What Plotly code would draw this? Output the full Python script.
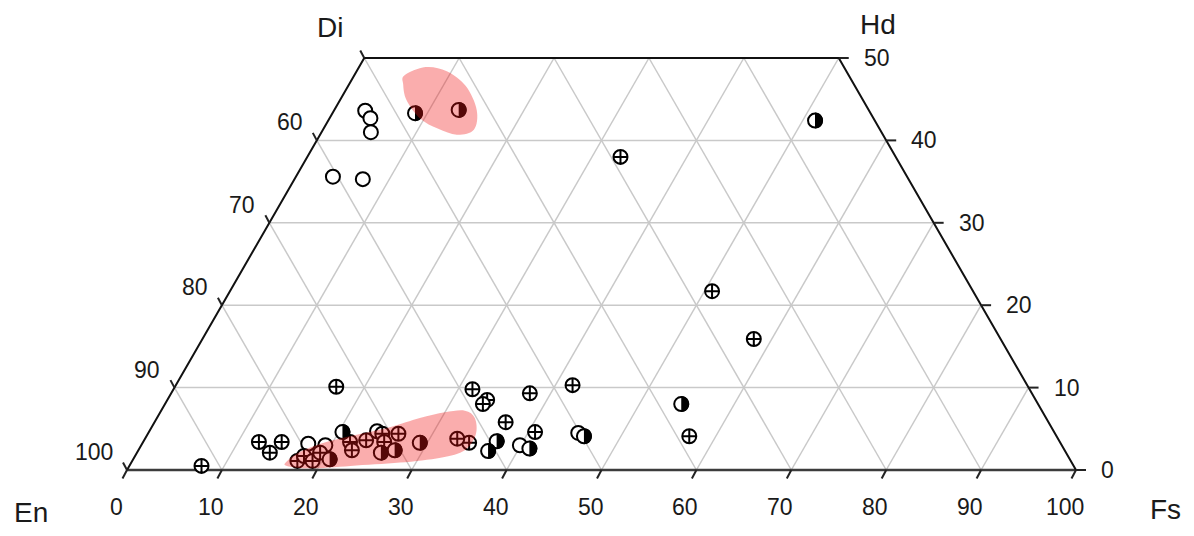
import plotly.graph_objects as go

# ---------------- data (ternary: Fs %, Wo %; En = 100 - Fs - Wo) ----------------
open_fs = [3.3, 4.3, 5.2, 3.9, 7.2, 45.3, 39.9, 17.5, 19.4, 24.0]
open_wo = [43.6, 42.7, 41.0, 35.6, 35.3, 4.5, 3.0, 3.2, 3.0, 4.7]

cross_fs = [33.0, 50.8, 58.1, 57.2, 17.0, 31.5, 33.7, 33.5, 37.8, 41.8, 37.0, 40.7,
            34.4, 32.9, 7.6, 12.2, 14.0, 14.6, 17.4, 17.8, 19.0, 19.3, 21.8, 22.5,
            23.4, 24.7, 25.4, 26.4]
cross_wo = [38.0, 21.7, 15.9, 4.1, 10.1, 9.8, 8.5, 8.0, 9.3, 10.3, 5.8, 4.6,
            3.3, 3.8, 0.5, 3.4, 2.1, 3.4, 1.1, 1.7, 1.1, 2.1, 3.4, 2.4,
            3.6, 4.4, 3.4, 4.4]

half_fs = [8.7, 13.1, 51.3, 54.4, 46.1, 37.2, 36.9, 41.1, 20.7, 20.4, 25.7, 27.0, 29.2]
half_wo = [43.3, 43.7, 42.4, 8.0, 4.1, 3.5, 2.3, 2.6, 1.3, 4.6, 2.1, 2.4, 3.3]

# highlighted fields (outline vertices, Fs %, Wo %)
field_top_fs = [5.3, 7.0, 9.5, 12.4, 15.0, 15.9, 14.4, 12.1, 9.5, 7.0, 5.7]
field_top_wo = [47.9, 48.9, 48.4, 46.6, 43.7, 41.3, 40.7, 41.4, 42.7, 44.9, 46.8]
field_low_fs = [16.6, 19.2, 23.3, 28.3, 32.3, 34.4, 34.6, 33.5, 32.0, 30.0, 27.7,
                25.1, 21.4, 18.8, 17.0, 16.3]
field_low_wo = [0.5, 0.2, 0.5, 0.9, 1.5, 2.4, 4.3, 6.3, 7.2, 7.0, 6.3,
                5.2, 4.1, 3.2, 2.1, 1.0]

bottom_ticks = [0, 10, 20, 30, 40, 50, 60, 70, 80, 90, 100]
bottom_labels = [str(v) for v in bottom_ticks]
left_ticks = [0, 10, 20, 30, 40, 50]           # Wo positions along En-Di edge
left_labels = ["100", "90", "80", "70", "60", ""]
right_ticks = [0, 10, 20, 30, 40, 50]
right_labels = [str(v) for v in right_ticks]
vertex_names = ["Di", "Hd", "En", "Fs"]

# ---------------- geometry helpers ----------------
PXX, PXY = 9.49, 8.24       # pixels per unit (x: Fs units, y: Wo units)
OFF = 8                     # page body margin
W, H = 1194 - 2 * OFF, 536 - 2 * OFF
X0, Y0 = 127 - OFF, 470 - OFF


def cx(fs, wo):
    return [f + w / 2 for f, w in zip(fs, wo)]


def dx(p):
    return p / PXX


def dy(p):
    return -p / PXY


fig = go.Figure()

# grid
gx, gy = [], []
for w in [10, 20, 30, 40]:
    gx += [w / 2, 100 - w / 2, None]
    gy += [w, w, None]
for f in range(10, 100, 10):
    we = 50 if f <= 50 else 100 - f
    gx += [f, f + we / 2, None]
    gy += [0, we, None]
for e in range(10, 100, 10):
    we = 50 if e <= 50 else 100 - e
    gx += [100 - e, 100 - e - we / 2, None]
    gy += [0, we, None]
fig.add_trace(go.Scatter(x=gx, y=gy, mode="lines", hoverinfo="skip",
                         line=dict(color="#c9c9c9", width=1.5), showlegend=False))

# frame
fig.add_trace(go.Scatter(x=[0, 100], y=[0, 0], mode="lines", hoverinfo="skip",
                         line=dict(color="#3c3c3c", width=2.5), showlegend=False))
fig.add_trace(go.Scatter(x=[100, 75, 25, 0], y=[0, 50, 50, 0], mode="lines", hoverinfo="skip",
                         line=dict(color="#111111", width=2), showlegend=False))

# ticks
tx, ty = [], []
for f in bottom_ticks:
    tx += [f, f + dx(-4.5), None]
    ty += [0, dy(8.5), None]
for w in left_ticks:
    tx += [w / 2, w / 2 + dx(-4), None]
    ty += [w, w + dy(-7.5), None]
for w in right_ticks:
    tx += [100 - w / 2, 100 - w / 2 + dx(10), None]
    ty += [w, w, None]
fig.add_trace(go.Scatter(x=tx, y=ty, mode="lines", hoverinfo="skip",
                         line=dict(color="#222222", width=2), showlegend=False))

# markers
MS = 14
fig.add_trace(go.Scatter(x=cx(open_fs, open_wo), y=open_wo, mode="markers", showlegend=False,
                         marker=dict(symbol="circle", size=MS, color="white",
                                     line=dict(color="black", width=2))))
fig.add_trace(go.Scatter(x=cx(cross_fs, cross_wo), y=cross_wo, mode="markers", showlegend=False,
                         marker=dict(symbol="circle-cross", size=MS, color="white",
                                     line=dict(color="black", width=2))))
half_x = cx(half_fs, half_wo)
fig.add_trace(go.Scatter(x=half_x, y=half_wo, mode="markers", showlegend=False,
                         marker=dict(symbol="circle", size=MS, color="white",
                                     line=dict(color="black", width=2))))

shapes = []
# black right halves of the half-filled symbols (pixel-sized, anchored at the data points)
R = MS / 2 + 1
K = 0.5523 * R
half_path = (f"M 0,{-R} C {K},{-R} {R},{-K} {R},0 C {R},{K} {K},{R} 0,{R} Z")
for xv, yv in zip(half_x, half_wo):
    shapes.append(dict(type="path", xref="x", yref="y", xsizemode="pixel", ysizemode="pixel",
                       xanchor=xv, yanchor=yv, path=half_path, fillcolor="black",
                       line=dict(width=0), layer="above"))


def smooth_closed(xs, ys):
    n = len(xs)
    p = f"M {xs[0]},{ys[0]}"
    for i in range(n):
        i0, i1, i2, i3 = (i - 1) % n, i, (i + 1) % n, (i + 2) % n
        c1x = xs[i1] + (xs[i2] - xs[i0]) / 6
        c1y = ys[i1] + (ys[i2] - ys[i0]) / 6
        c2x = xs[i2] - (xs[i3] - xs[i1]) / 6
        c2y = ys[i2] - (ys[i3] - ys[i1]) / 6
        p += f" C {c1x},{c1y} {c2x},{c2y} {xs[i2]},{ys[i2]}"
    return p + " Z"


for ffs, fwo in [(field_top_fs, field_top_wo), (field_low_fs, field_low_wo)]:
    shapes.append(dict(type="path", xref="x", yref="y",
                       path=smooth_closed(cx(ffs, fwo), fwo),
                       fillcolor="rgba(240,20,20,0.35)", line=dict(width=0), layer="above"))

ann = []
tf = dict(family="Liberation Sans, Arial, sans-serif", size=23, color="#1a1a1a")
for f, lab in zip(bottom_ticks, bottom_labels):
    ann.append(dict(x=f, y=0, text=lab, showarrow=False, xanchor="center", yanchor="middle",
                    xshift=-11, yshift=-37, font=tf))
for w, lab in zip(left_ticks, left_labels):
    if lab:
        ann.append(dict(x=w / 2, y=w, text=lab, showarrow=False, xanchor="right",
                        yanchor="middle", xshift=-12, yshift=18, font=tf))
for w, lab in zip(right_ticks, right_labels):
    ann.append(dict(x=100 - w / 2, y=w, text=lab, showarrow=False, xanchor="left",
                    yanchor="middle", xshift=23, yshift=0, font=tf))

vf = dict(family="Liberation Sans, Arial, sans-serif", size=28, color="#1a1a1a")
vpos = [(330, 28), (878, 24), (31, 512), (1165, 509)]
for name, (px, py) in zip(vertex_names, vpos):
    ann.append(dict(x=(px - OFF) / W, y=1 - (py - OFF) / H, xref="paper", yref="paper",
                    text=name, showarrow=False, xanchor="center", yanchor="middle", font=vf))

fig.update_layout(
    width=W, height=H, autosize=False,
    margin=dict(l=0, r=0, t=0, b=0),
    paper_bgcolor="white", plot_bgcolor="white",
    xaxis=dict(range=[-X0 / PXX, (W - X0) / PXX], visible=False, fixedrange=True),
    yaxis=dict(range=[(Y0 - H) / PXY, Y0 / PXY], visible=False, fixedrange=True),
    annotations=ann, shapes=shapes, showlegend=False,
)

fig.write_html("out.html")
